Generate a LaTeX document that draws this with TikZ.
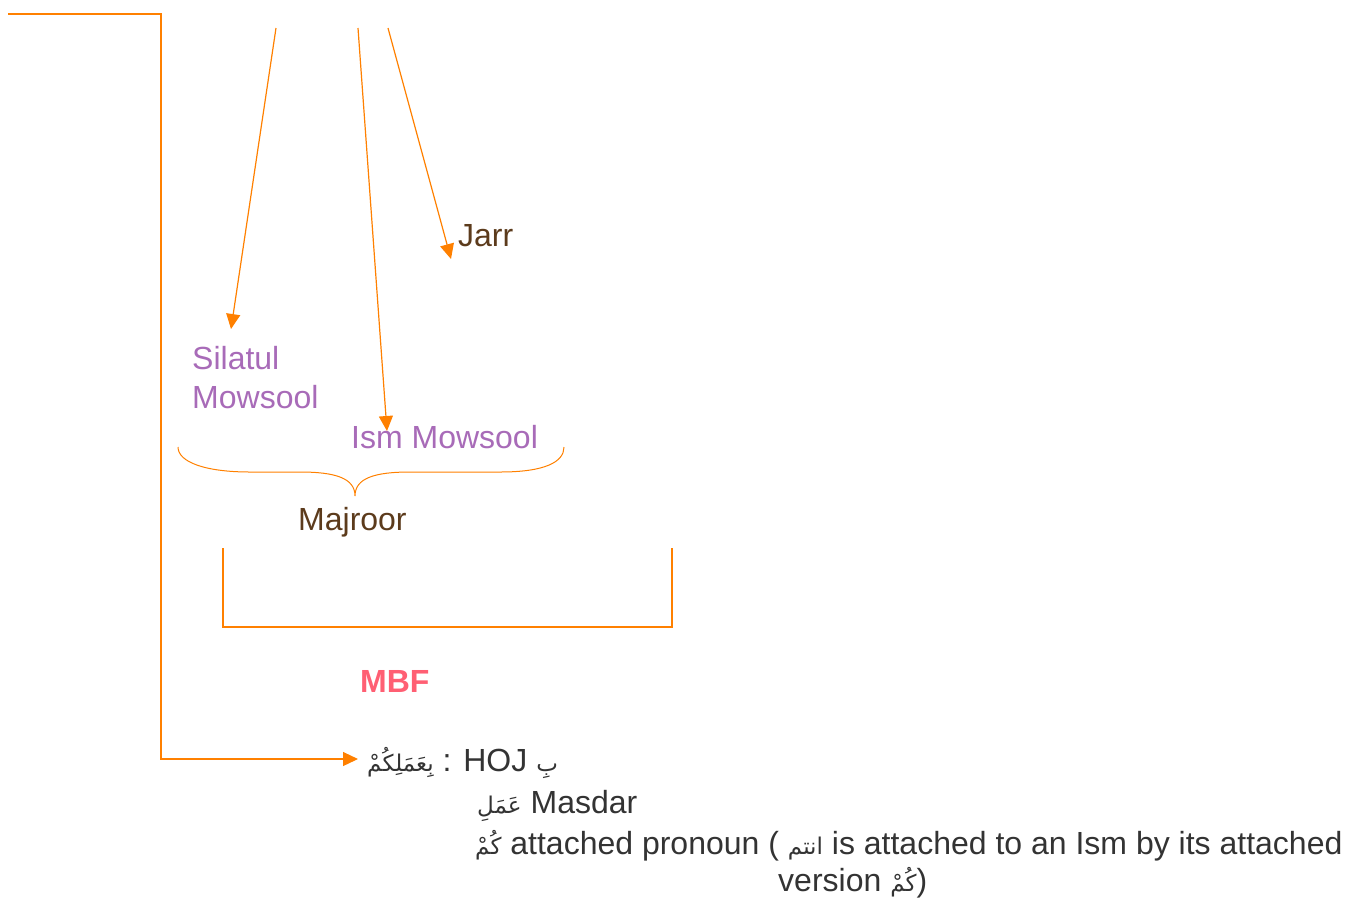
\documentclass[tikz,border=0pt]{standalone}
\usepackage{fontspec}
\setmainfont{Liberation Sans}
\newfontfamily\arabicfont[Script=Arabic,Scale=0.72]{DejaVu Sans}
\TeXXeTstate=1
\usetikzlibrary{arrows.meta}
\definecolor{lineorange}{HTML}{FF8000}
\definecolor{purpletxt}{HTML}{A86BB8}
\definecolor{browntxt}{HTML}{5C3B1C}
\definecolor{mbfred}{HTML}{FF5F73}
\definecolor{darktxt}{HTML}{333333}
\tikzset{
  conn/.style={draw=lineorange, line width=1.2pt},
  arr/.style={conn, -{Triangle[length=15pt,width=14pt]}},
  lbl/.style={anchor=base west, inner sep=0pt, font=\fontsize{32}{40}\selectfont},
  purple/.style={lbl, text=purpletxt},
  brown/.style={lbl, text=browntxt},
  dark/.style={lbl, text=darktxt},
}
\begin{document}
\begin{tikzpicture}[x=1pt,y=-1pt]
\useasboundingbox (0,0) rectangle (1348,898);
% text nodes
\node[brown] (jarr) at (458,246) {Jarr};
\node[purple] (silatul) at (192,369) {Silatul};
\node[purple] (mowsool) at (192,408) {Mowsool};
\node[purple] (ism) at (351,448) {Ism Mowsool};
\node[brown] (majroor) at (298,530) {Majroor};
\node[lbl, text=mbfred, font=\fontsize{32}{40}\selectfont\bfseries] (mbf) at (360,692) {MBF};
\node[dark] (l1) at (367,771) {{\arabicfont\beginR بِعَمَلِكُمْ\endR} : HOJ {\arabicfont\beginR بِ\endR}};
\node[dark] (l2) at (477,813) {{\arabicfont\beginR عَمَلِ\endR} Masdar};
\node[dark] (l3) at (475,854) {{\arabicfont\beginR كُمْ\endR} attached pronoun ( {\arabicfont\beginR انتم\endR} is attached to an Ism by its attached};
\node[dark] (l4) at (778,891) {version {\arabicfont\beginR كُمْ\endR})};
% coordinates
\coordinate (s1) at (276,28);
\coordinate (s2) at (358,28);
\coordinate (s3) at (388,28);
\coordinate (t1) at (231,329);
\coordinate (t2) at (387,431);
\coordinate (t3) at (451,259);
\coordinate (top) at (8,14);
\coordinate (corner1) at (161,14);
\coordinate (tip4) at (358,759);
% arrows
\draw[arr] (s1) -- (t1);
\draw[arr] (s2) -- (t2);
\draw[arr] (s3) -- (t3);
\draw[arr] (top) -- (corner1) |- (tip4);
% brace
\coordinate (bl) at (178,447);
\coordinate (br) at (564,447);
\coordinate (btip) at (355,496);
\draw[conn, line width=1pt] (bl) .. controls (178,462) and (205,472) .. (250,472) -- (300,472)
  .. controls (335,472) and (355,478) .. (btip)
  .. controls (355,478) and (375,472) .. (410,472) -- (500,472)
  .. controls (545,472) and (564,462) .. (br);
% bracket
\coordinate (k1) at (223,548);
\coordinate (k2) at (672,548);
\draw[conn, line width=1.4pt] (k1) -- (223,627) -- (672,627) -- (k2);
\end{tikzpicture}
\end{document}
